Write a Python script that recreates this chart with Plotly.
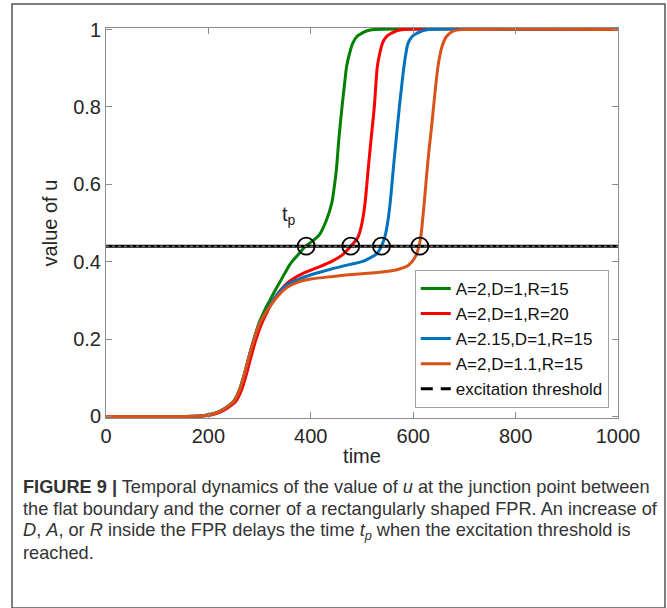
import plotly.graph_objects as go

# ---------------- data ----------------
t_green = [0, 150, 190, 210, 225, 240, 250, 260, 270, 280, 290, 300, 310, 320, 330, 340, 350, 362, 375, 390,
           405, 417, 431, 441, 446, 450, 455, 461, 466, 470, 476, 482, 490, 499, 510, 524, 1000]
u_green = [0, 0, 0.002, 0.007, 0.015, 0.028, 0.04, 0.066, 0.108, 0.158, 0.205, 0.245, 0.275, 0.3, 0.325, 0.348,
           0.372, 0.398, 0.418, 0.44, 0.455, 0.47, 0.509, 0.552, 0.595, 0.638, 0.72, 0.8, 0.86, 0.905, 0.94,
           0.965, 0.982, 0.99, 0.997, 1, 1]

t_red = [0, 150, 195, 214, 229, 244, 254, 264, 274, 284, 294, 304, 314, 324, 340, 359, 385, 411, 440, 463,
         478, 488, 493, 500, 506, 512, 518, 524, 530, 535, 540, 548, 557, 568, 582, 1000]
u_red = [0, 0, 0.002, 0.007, 0.015, 0.028, 0.04, 0.066, 0.108, 0.158, 0.203, 0.24, 0.268, 0.293, 0.325, 0.35,
         0.37, 0.384, 0.4, 0.419, 0.44, 0.455, 0.466, 0.5, 0.552, 0.638, 0.72, 0.8, 0.905, 0.94, 0.965, 0.982,
         0.99, 0.997, 1, 1]

t_blue = [0, 150, 190, 210, 225, 240, 250, 260, 270, 280, 290, 300, 310, 320, 335, 353, 379, 410, 437, 477,
          500, 516, 530, 538, 545, 550, 555, 561, 567, 573, 578, 582, 586, 590, 598, 607, 618, 631, 1000]
u_blue = [0, 0, 0.002, 0.007, 0.015, 0.028, 0.04, 0.066, 0.108, 0.158, 0.203, 0.24, 0.265, 0.287, 0.316, 0.34,
          0.356, 0.37, 0.38, 0.393, 0.40, 0.41, 0.422, 0.44, 0.466, 0.50, 0.552, 0.638, 0.72, 0.8, 0.86, 0.905,
          0.94, 0.965, 0.982, 0.99, 0.997, 1, 1]

t_orange = [0, 150, 190, 210, 225, 240, 250, 260, 270, 280, 290, 300, 310, 320, 335, 353, 375, 400, 444, 480,
            530, 570, 590, 603, 613, 620, 626, 631, 636, 642, 649, 656, 665, 678, 698, 1000]
u_orange = [0, 0, 0.002, 0.007, 0.015, 0.028, 0.04, 0.066, 0.108, 0.158, 0.203, 0.24, 0.264, 0.284, 0.31, 0.333,
            0.347, 0.355, 0.362, 0.367, 0.372, 0.38, 0.39, 0.41, 0.45, 0.53, 0.62, 0.69, 0.75, 0.83, 0.91, 0.955,
            0.982, 0.996, 1, 1]

threshold = 0.44
t_cross = [391, 478, 538, 613]

series_names = ["A=2,D=1,R=15", "A=2,D=1,R=20", "A=2.15,D=1,R=15", "A=2,D=1.1,R=15"]
series_colors = ["#008000", "#FF0000", "#0072BD", "#D95319"]

x_ticks = [0, 200, 400, 600, 800, 1000]
y_ticks = [0, 0.2, 0.4, 0.6, 0.8, 1]
y_tick_text = ["0", "0.2", "0.4", "0.6", "0.8", "1"]

FONT = "Liberation Sans, Arial, Helvetica, sans-serif"

fig = go.Figure()
for t, u, name, col in zip([t_green, t_red, t_blue, t_orange],
                           [u_green, u_red, u_blue, u_orange],
                           series_names, series_colors):
    fig.add_trace(go.Scatter(x=t, y=u, mode="lines", name=name,
                             line=dict(color=col, width=3, shape="spline", smoothing=0.8)))

# threshold: solid black underneath, dashed in legend
fig.add_trace(go.Scatter(x=[0, 1000], y=[threshold, threshold], mode="lines", showlegend=False,
                         line=dict(color="black", width=3), hoverinfo="skip"))
fig.add_trace(go.Scatter(x=[0, 1000], y=[threshold, threshold], mode="lines", showlegend=False,
                         line=dict(color="#9a9a9a", width=1, dash="3px,3px"), hoverinfo="skip"))
fig.add_trace(go.Scatter(x=[None], y=[None], mode="lines", name="excitation threshold",
                         line=dict(color="black", width=3, dash="12px,8px")))

# crossing circles
fig.add_trace(go.Scatter(x=t_cross, y=[threshold] * len(t_cross), mode="markers", showlegend=False,
                         marker=dict(symbol="circle-open", size=17, color="black", line=dict(width=1.8))))

fig.add_annotation(x=357, y=0.52, xref="x", yref="y", text="t<sub>p</sub>", showarrow=False,
                   font=dict(family=FONT, size=20, color="#222"))

axis_common = dict(showgrid=False, zeroline=False, showline=True, mirror="ticks",
                   linecolor="#8c8c8c", linewidth=1, ticks="inside", ticklen=6,
                   tickcolor="#8c8c8c", tickwidth=1,
                   tickfont=dict(family=FONT, size=20, color="#262626"))

fig.update_xaxes(range=[0, 1000], tickvals=x_ticks,
                 title=dict(text="time", font=dict(family=FONT, size=20, color="#262626"), standoff=2),
                 **axis_common)
fig.update_yaxes(range=[-0.004, 1.004], tickvals=y_ticks, ticktext=y_tick_text,
                 title=dict(text="value of u", font=dict(family=FONT, size=20, color="#262626"), standoff=10),
                 **axis_common)

# outer figure frame
fig.add_shape(type="rect", xref="paper", yref="paper", x0=-0.1836, x1=1.0918, y0=-0.487, y1=1.0615,
              line=dict(color="#555555", width=1.5), layer="below")

caption_lines = [
    "<b>FIGURE 9 |</b> Temporal dynamics of the value of <i>u</i> at the junction point between",
    "the flat boundary and the corner of a rectangularly shaped FPR. An increase of",
    "<i>D</i>, <i>A</i>, or <i>R</i> inside the FPR delays the time <i>t<sub>p</sub></i> when the excitation threshold is",
    "reached.",
]
caption_y = [-0.1769, -0.2333, -0.2923, -0.3462]
for txt, yy in zip(caption_lines, caption_y):
    fig.add_annotation(x=-0.166, y=yy, xref="paper", yref="paper", text=txt, showarrow=False,
                       xanchor="left", yanchor="middle", align="left",
                       font=dict(family=FONT, size=18.2, color="#333333"))

fig.update_layout(
    width=667, height=608,
    margin=dict(l=106, r=49, t=28, b=190, autoexpand=False),
    paper_bgcolor="white", plot_bgcolor="white",
    font=dict(family=FONT, color="#262626"),
    legend=dict(x=0.982, y=0.026, xanchor="right", yanchor="bottom",
                bgcolor="white", bordercolor="#a0a0a0", borderwidth=1,
                font=dict(family=FONT, size=17, color="#111"), tracegroupgap=0, itemwidth=30),
    showlegend=True,
)

fig.write_html("out.html", config={"displayModeBar": False},
               post_script="document.body.style.margin='0px';document.body.style.overflow='hidden';")
